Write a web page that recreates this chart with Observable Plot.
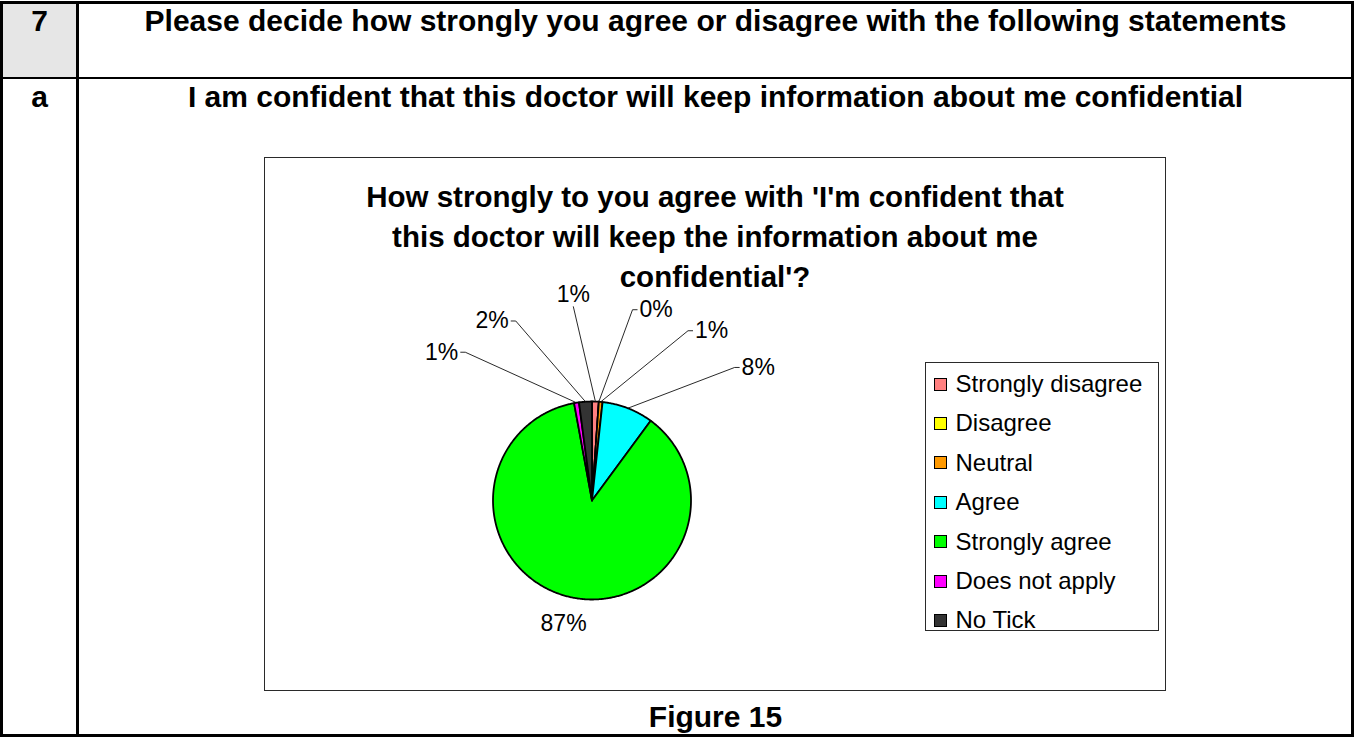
<!DOCTYPE html>
<html>
<head>
<meta charset="utf-8">
<script src="https://cdn.jsdelivr.net/npm/d3@7"></script>
<script src="https://cdn.jsdelivr.net/npm/@observablehq/plot@0.6"></script>
<style>
  body { margin: 0; background: #fff; width: 1356px; height: 737px; overflow: hidden; position: relative;
         font-family: "Liberation Sans", Arial, sans-serif; color: #000; }
  .abs { position: absolute; }
  .b { font-weight: bold; font-size: 30px; line-height: normal; white-space: nowrap; text-align: center; }
  #chartbox { position: absolute; left: 264px; top: 157px; width: 902px; height: 534px; box-sizing: border-box;
              border: 1.5px solid #2a2a2a; }
  #ctitle { position: absolute; left: 0; width: 100%; top: 19px; text-align: center; font-weight: bold;
            font-size: 29.5px; line-height: 40px; }
  #plot { position: absolute; left: 0; top: 0; }
  #legend { position: absolute; left: 659.5px; top: 203.5px; width: 234px; height: 269px; box-sizing: border-box;
            border: 1px solid #2a2a2a; background: #fff; }
  .lrow { position: absolute; left: 8px; height: 13px; display: flex; align-items: center; white-space: nowrap; }
  .sw { width: 11px; height: 11px; border: 1px solid #000; margin-right: 9px; flex: none; }
  .lt { font-size: 24px; line-height: 24px; }
</style>
</head>
<body>
<div class="abs" style="left:3px;top:4px;width:73px;height:73px;background:#e6e6e6"></div>
<div class="abs" style="left:0;top:1px;width:1354px;height:736px;border:3px solid #000;box-sizing:border-box"></div>
<div class="abs" style="left:76px;top:1px;width:3px;height:736px;background:#000"></div>
<div class="abs" style="left:0;top:77px;width:1354px;height:2px;background:#000"></div>

<div class="abs b" id="q7" style="left:3px;width:73px;top:3.5px"></div>
<div class="abs b" id="qhead" style="left:79px;width:1273px;top:3.5px"></div>
<div class="abs b" id="qa" style="left:3px;width:73px;top:79.5px"></div>
<div class="abs b" id="qstmt" style="left:79px;width:1273px;top:79.5px"></div>
<div class="abs b" id="fig" style="left:79px;width:1273px;top:699.5px"></div>

<div id="chartbox">
  <div id="plot"></div>
  <div id="ctitle"></div>
  <div id="legend"></div>
</div>

<script>
// ---------------- data ----------------
const questionNumber = "7";
const questionHeader = "Please decide how strongly you agree or disagree with the following statements";
const itemLetter = "a";
const itemStatement = "I am confident that this doctor will keep information about me confidential";
const chartTitleLines = [
  "How strongly to you agree with 'I'm confident that",
  "this doctor will keep the information about me",
  "confidential'?"
];
const figureCaption = "Figure 15";

const categories = ["Strongly disagree", "Disagree", "Neutral", "Agree", "Strongly agree", "Does not apply", "No Tick"];
const percents   = [1.1, 0, 0.6, 8.4, 87.0, 0.8, 2.1];
const colors     = ["#ff8080", "#ffff00", "#ff9900", "#00ffff", "#00ff00", "#ff00ff", "#333333"];

// ---------------- text ----------------
document.getElementById("q7").textContent = questionNumber;
document.getElementById("qhead").textContent = questionHeader;
document.getElementById("qa").textContent = itemLetter;
document.getElementById("qstmt").textContent = itemStatement;
document.getElementById("fig").textContent = figureCaption;
document.getElementById("ctitle").innerHTML = chartTitleLines.map(t => `<div>${t.replace(/&/g,"&amp;").replace(/</g,"&lt;")}</div>`).join("");

// legend
const legend = document.getElementById("legend");
categories.forEach((c, i) => {
  const row = document.createElement("div");
  row.className = "lrow";
  row.style.top = (15 + i * 39.4) + "px";
  const sw = document.createElement("span");
  sw.className = "sw";
  sw.style.background = colors[i];
  const t = document.createElement("span");
  t.className = "lt";
  t.textContent = c;
  row.appendChild(sw); row.appendChild(t);
  legend.appendChild(row);
});

// ---------------- pie via Plot ----------------
const rows = categories.map((name, i) => ({name, value: percents[i], color: colors[i], label: Math.round(percents[i]) + "%"}));
const arcs = d3.pie().sort(null).value(d => d.value).startAngle(0).endAngle(2 * Math.PI)(rows);

// layout (pixels)
const W = 899, H = 531;
const R = 99, CX = 326.5, CY = 342;
const LABEL_R = 1.97, BIG_R = 1.28, GAP = 17.5 * Math.PI / 180;

function slicePoints(a) {
  const span = a.endAngle - a.startAngle;
  const n = Math.max(2, Math.ceil(span / (Math.PI / 360)) + 1);
  const pts = [{x: 0, y: 0}];
  for (let k = 0; k < n; k++) {
    const t = a.startAngle + span * k / (n - 1);
    pts.push({x: Math.sin(t), y: Math.cos(t)});
  }
  pts.push({x: 0, y: 0});
  return pts;
}

// labels
const labs = arcs.map(a => {
  let mid = (a.startAngle + a.endAngle) / 2;
  if (mid > Math.PI) mid -= 2 * Math.PI;
  return {label: a.data.label, mid, big: a.data.value / d3.sum(percents) > 0.25};
});
const small = labs.filter(d => !d.big).sort((p, q) => p.mid - q.mid);
// spread crowded labels (pool adjacent violators on mid - i*GAP)
const blocks = [];
small.forEach((d, i) => {
  blocks.push({sum: d.mid - i * GAP, n: 1});
  while (blocks.length > 1) {
    const b = blocks[blocks.length - 1], a = blocks[blocks.length - 2];
    if (a.sum / a.n > b.sum / b.n) { a.sum += b.sum; a.n += b.n; blocks.pop(); } else break;
  }
});
let idx = 0;
blocks.forEach(b => { const v = b.sum / b.n; for (let k = 0; k < b.n; k++) { small[idx].pos = v + idx * GAP; idx++; } });

const leaders = [], textR = [], textL = [], textT = [], textBig = [];
small.forEach(d => {
  const px = Math.sin(d.pos) * LABEL_R, py = Math.cos(d.pos) * LABEL_R;
  leaders.push({x1: Math.sin(d.mid), y1: Math.cos(d.mid), x2: px, y2: py});
  const s = Math.sin(d.pos);
  if (s > 0.15) {
    leaders.push({x1: px, y1: py, x2: px + 5 / R, y2: py});
    textR.push({x: px + 7 / R, y: py, label: d.label});
  } else if (s < -0.15) {
    leaders.push({x1: px, y1: py, x2: px - 5 / R, y2: py});
    textL.push({x: px - 7 / R, y: py, label: d.label});
  } else {
    textT.push({x: px, y: py + 4 / R, label: d.label});
  }
});
labs.filter(d => d.big).forEach(d => textBig.push({x: Math.sin(d.mid) * BIG_R, y: Math.cos(d.mid) * BIG_R, label: d.label}));

const font = "'Liberation Sans', Arial, sans-serif";
const textOpts = {x: "x", y: "y", text: "label", fontSize: 23, fontFamily: font, fill: "black"};

const plot = Plot.plot({
  width: W, height: H, margin: 0,
  x: {domain: [-CX / R, (W - CX) / R], axis: null},
  y: {domain: [-(H - CY) / R, CY / R], axis: null},
  style: {background: "transparent", overflow: "visible"},
  marks: [
    ...arcs.map(a => Plot.line(slicePoints(a), {x: "x", y: "y", fill: a.data.color, stroke: "black", strokeWidth: 1.8, strokeLinejoin: "round"})),
    Plot.link(leaders, {x1: "x1", y1: "y1", x2: "x2", y2: "y2", stroke: "#111", strokeWidth: 0.9}),
    Plot.text(textR, {...textOpts, textAnchor: "start"}),
    Plot.text(textL, {...textOpts, textAnchor: "end"}),
    Plot.text(textT, {...textOpts, textAnchor: "middle", lineAnchor: "bottom"}),
    Plot.text(textBig, {...textOpts, textAnchor: "middle"})
  ]
});
document.getElementById("plot").appendChild(plot);
</script>
</body>
</html>
